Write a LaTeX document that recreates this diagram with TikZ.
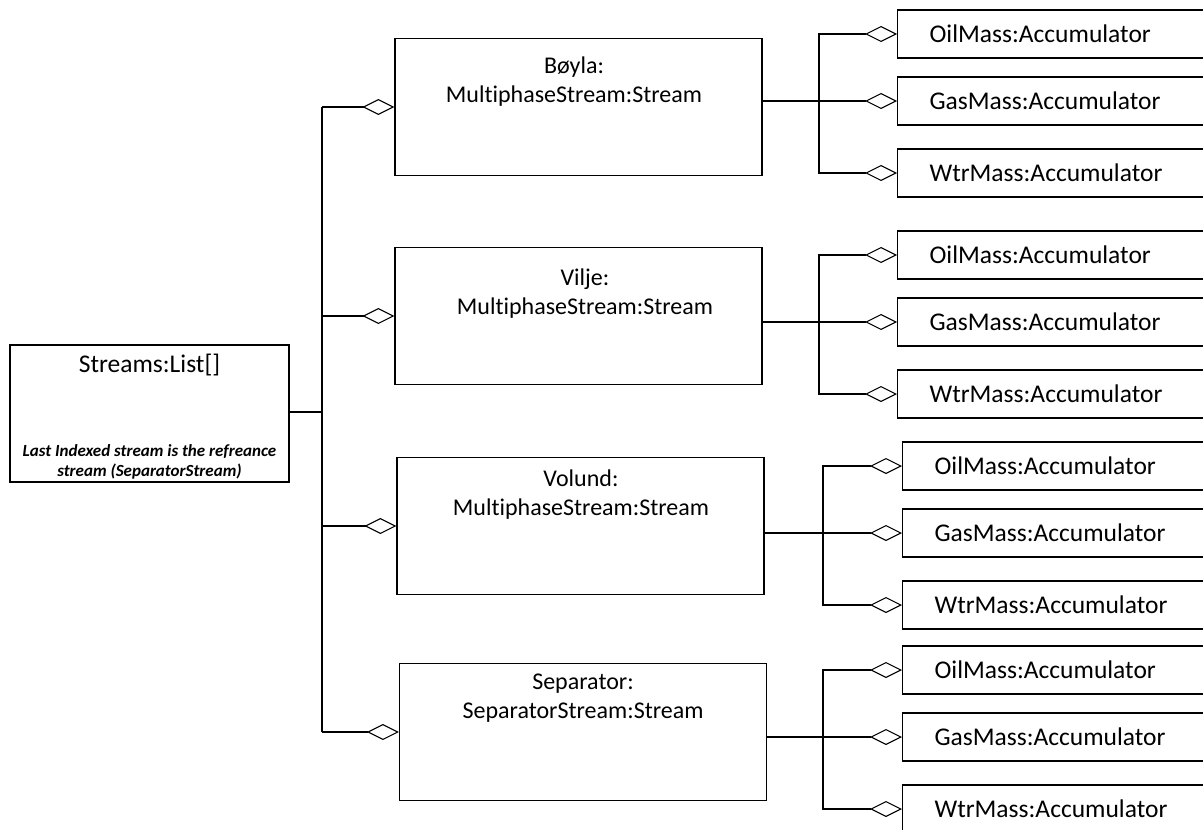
\documentclass[tikz,border=0pt]{standalone}
\usepackage{fontspec}
\setmainfont{Carlito}[Ligatures=NoCommon]
\usetikzlibrary{arrows.meta}

\begin{document}
\begin{tikzpicture}[x=1pt, y=-1pt, line width=1.1pt,
  every node/.style={font=\fontsize{24}{29}\selectfont, align=center},
  obj/.style={draw, minimum width=367pt, minimum height=137pt},
  acc/.style={draw, anchor=west, text width=300pt, inner xsep=32pt, minimum height=48pt,
    align=left, font=\fontsize{25.5}{30}\selectfont},
  agg/.style={-{Diamond[open, length=32pt, width=16pt]}}]
  \clip (0,0) rectangle (1203,830);

  % the list
  \node[obj, minimum width=279pt] (streams) at (149.5,413.5) {};
  \node[font=\fontsize{25.5}{30}\selectfont] (streams-t) at (149.5,365) {Streams:List[]};
  \node[font=\fontsize{17}{20}\selectfont\bfseries\itshape] (streams-n) at (149.5,462)
    {Last Indexed stream is the refreance\\stream (SeparatorStream)};

  % the streams
  \node[obj] (boyla) at (578.5,107) {};
  \node (boyla-t) at (574,82) {Bøyla:\\MultiphaseStream:Stream};
  \node[obj] (vilje) at (578.5,316) {};
  \node (vilje-t) at (585,294) {Vilje:\\MultiphaseStream:Stream};
  \node[obj] (volund) at (580.5,526) {};
  \node (volund-t) at (581,495) {Volund:\\MultiphaseStream:Stream};
  \node[obj] (sep) at (583,732) {};
  \node (sep-t) at (583,698) {Separator:\\SeparatorStream:Stream};

  % accumulators
  \node[acc] (boyla-oil) at (897,34) {OilMass:Accumulator};
  \node[acc] (boyla-gas) at (897,101) {GasMass:Accumulator};
  \node[acc] (boyla-wtr) at (897,173) {WtrMass:Accumulator};
  \node[acc] (vilje-oil) at (897,255) {OilMass:Accumulator};
  \node[acc] (vilje-gas) at (897,322) {GasMass:Accumulator};
  \node[acc] (vilje-wtr) at (897,394) {WtrMass:Accumulator};
  \node[acc] (volund-oil) at (902,466) {OilMass:Accumulator};
  \node[acc] (volund-gas) at (902,533) {GasMass:Accumulator};
  \node[acc] (volund-wtr) at (902,605) {WtrMass:Accumulator};
  \node[acc] (sep-oil) at (902,670) {OilMass:Accumulator};
  \node[acc] (sep-gas) at (902,737) {GasMass:Accumulator};
  \node[acc] (sep-wtr) at (902,809) {WtrMass:Accumulator};

  % list -> streams
  \coordinate (hub) at (322,412);
  \draw (streams.east |- hub) -- (hub);
  \draw (hub |- boyla.west) -- (hub |- sep.west);
  \draw[agg] (hub |- boyla.west) -- (boyla.west);
  \draw[agg] (hub |- vilje.west) -- (vilje.west);
  \draw[agg] (hub |- volund.west) -- (volund.west);
  \draw[agg] (hub |- sep.west) -- (sep.west);

  % stream -> accumulators
  \coordinate (boyla-j) at (819,101);
  \draw[agg] (boyla.east |- boyla-j) -- (boyla-gas.west);
  \draw[agg] (boyla-j) |- (boyla-oil.west);
  \draw[agg] (boyla-j) |- (boyla-wtr.west);
  \coordinate (vilje-j) at (819,322);
  \draw[agg] (vilje.east |- vilje-j) -- (vilje-gas.west);
  \draw[agg] (vilje-j) |- (vilje-oil.west);
  \draw[agg] (vilje-j) |- (vilje-wtr.west);
  \coordinate (volund-j) at (823,533);
  \draw[agg] (volund.east |- volund-j) -- (volund-gas.west);
  \draw[agg] (volund-j) |- (volund-oil.west);
  \draw[agg] (volund-j) |- (volund-wtr.west);
  \coordinate (sep-j) at (823,737);
  \draw[agg] (sep.east |- sep-j) -- (sep-gas.west);
  \draw[agg] (sep-j) |- (sep-oil.west);
  \draw[agg] (sep-j) |- (sep-wtr.west);
\end{tikzpicture}
\end{document}
